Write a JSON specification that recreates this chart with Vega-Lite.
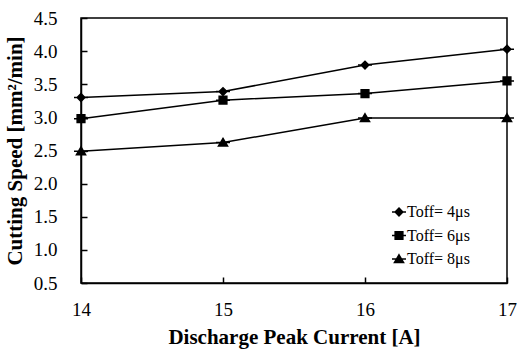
{
  "$schema": "https://vega.github.io/schema/vega-lite/v6.json",
  "autosize": {"type": "none"},
  "width": 426,
  "height": 265,
  "padding": {"left": 81, "top": 18, "right": 10, "bottom": 67},
  "background": "white",
  "config": {
    "view": {"stroke": "black", "strokeWidth": 1.5},
    "font": "Liberation Serif",
    "axis": {
      "domainColor": "black",
      "domainWidth": 1.5,
      "tickColor": "black",
      "tickWidth": 1.5,
      "grid": false,
      "labelFlush": false,
      "labelColor": "black",
      "titleColor": "black",
      "labelFont": "Liberation Serif",
      "titleFont": "Liberation Serif",
      "labelFontSize": 19,
      "titleFontSize": 21,
      "titleFontWeight": "bold"
    },
    "legend": {
      "labelFont": "Liberation Serif",
      "labelFontSize": 16,
      "labelColor": "black"
    }
  },
  "data": {
    "values": [
      {"current": 14, "speed": 3.30, "series": "Toff= 4μs"},
      {"current": 15, "speed": 3.39, "series": "Toff= 4μs"},
      {"current": 16, "speed": 3.79, "series": "Toff= 4μs"},
      {"current": 17, "speed": 4.03, "series": "Toff= 4μs"},
      {"current": 14, "speed": 2.98, "series": "Toff= 6μs"},
      {"current": 15, "speed": 3.26, "series": "Toff= 6μs"},
      {"current": 16, "speed": 3.36, "series": "Toff= 6μs"},
      {"current": 17, "speed": 3.55, "series": "Toff= 6μs"},
      {"current": 14, "speed": 2.49, "series": "Toff= 8μs"},
      {"current": 15, "speed": 2.62, "series": "Toff= 8μs"},
      {"current": 16, "speed": 2.99, "series": "Toff= 8μs"},
      {"current": 17, "speed": 2.99, "series": "Toff= 8μs"}
    ]
  },
  "encoding": {
    "x": {
      "field": "current",
      "type": "quantitative",
      "scale": {"domain": [14, 17], "nice": false, "zero": false},
      "axis": {
        "values": [14, 15, 16, 17],
        "format": "d",
        "tickSize": -6,
        "labelPadding": 23,
        "titlePadding": 7,
        "title": "Discharge Peak Current [A]"
      }
    },
    "y": {
      "field": "speed",
      "type": "quantitative",
      "scale": {"domain": [0.5, 4.5], "nice": false, "zero": false},
      "axis": {
        "values": [0.5, 1.0, 1.5, 2.0, 2.5, 3.0, 3.5, 4.0, 4.5],
        "format": ".1f",
        "tickSize": -6,
        "labelPadding": 30,
        "titlePadding": 8,
        "title": "Cutting Speed [mm²/min]"
      }
    }
  },
  "layer": [
    {
      "mark": {"type": "line", "color": "black", "strokeWidth": 1.5},
      "encoding": {"detail": {"field": "series"}}
    },
    {
      "mark": {"type": "point", "filled": true, "fill": "black", "stroke": "black", "strokeWidth": 1.5, "opacity": 1, "size": 196},
      "encoding": {
        "shape": {
          "field": "series",
          "type": "nominal",
          "scale": {
            "domain": ["Toff= 4μs", "Toff= 6μs", "Toff= 8μs"],
            "range": [
              "M-1,0L1,0M0,-0.55L0.55,0L0,0.55L-0.55,0Z",
              "M-1,0L1,0M-0.55,-0.55L0.55,-0.55L0.55,0.55L-0.55,0.55Z",
              "M-1,0L1,0M0,-0.6L0.65,0.5L-0.65,0.5Z"
            ]
          },
          "legend": {
            "title": null,
            "orient": "none",
            "legendX": 310,
            "legendY": 186,
            "labelOffset": 0,
            "rowPadding": 7.5,
            "symbolSize": 196,
            "encode": {
              "symbols": {
                "update": {
                  "fill": {"value": "black"},
                  "stroke": {"value": "black"},
                  "strokeWidth": {"value": 1.5},
                  "opacity": {"value": 1}
                }
              }
            }
          }
        }
      }
    }
  ]
}
